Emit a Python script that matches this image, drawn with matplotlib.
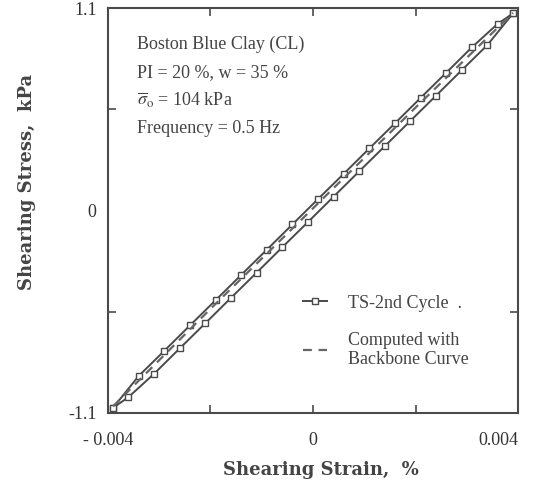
import matplotlib.pyplot as plt

plt.rcParams['font.family'] = ['Liberation Serif', 'DejaVu Serif']
plt.rcParams['mathtext.fontset'] = 'stix'

# TS-2nd cycle, upper branch (unloading) and lower branch (reloading)
upper_strain = [0.0039, 0.0036, 0.0031, 0.0026, 0.0021, 0.0016, 0.0011, 0.0006, 0.0001,
                -0.0004, -0.0009, -0.0014, -0.0019, -0.0024, -0.0029, -0.0034, -0.0039]
upper_stress = [1.072, 1.015, 0.888, 0.750, 0.613, 0.475, 0.338, 0.200, 0.063,
                -0.075, -0.213, -0.350, -0.488, -0.625, -0.763, -0.900, -1.073]
lower_strain = [-0.0039, -0.0036, -0.0031, -0.0026, -0.0021, -0.0016, -0.0011, -0.0006, -0.0001,
                0.0004, 0.0009, 0.0014, 0.0019, 0.0024, 0.0029, 0.0034, 0.0039]
lower_stress = [-1.073, -1.015, -0.888, -0.750, -0.613, -0.475, -0.338, -0.200, -0.063,
                0.075, 0.213, 0.350, 0.488, 0.625, 0.763, 0.900, 1.072]

# computed with backbone curve
bb_strain = [-0.0039, -0.002, 0.0, 0.002, 0.0039]
bb_stress = [-1.065, -0.535, 0.012, 0.56, 1.075]

xticks = [-0.004, 0, 0.004]
xtick_labels = ["- 0.004", "0", "0.004"]
yticks = [-1.1, 0, 1.1]
ytick_labels = ["-1.1", "0", "1.1"]

ink = "#4a4a4a"

fig = plt.figure(figsize=(5.53, 4.84), dpi=100)
ax = fig.add_axes([0.195, 0.147, 0.742, 0.836])

ax.plot(upper_strain, upper_stress, color=ink, lw=1.4, marker="s", ms=5,
        mfc="white", mec=ink, mew=1.0, label="TS-2nd Cycle  .")
ax.plot(lower_strain, lower_stress, color=ink, lw=1.4, marker="s", ms=5,
        mfc="white", mec=ink, mew=1.0)
ax.plot(bb_strain, bb_stress, color="#666666", lw=1.6, ls=(0, (4, 3)),
        label="Computed with\nBackbone Curve")

ax.set_xlim(-0.004, 0.004)
ax.set_ylim(-1.1, 1.1)
ax.set_xticks(xticks)
ax.set_xticklabels(xtick_labels)
ax.set_yticks(yticks)
ax.set_yticklabels(ytick_labels)
ax.set_xticks([-0.002, 0.002], minor=True)
ax.set_yticks([-0.55, 0.55], minor=True)
ax.tick_params(which="both", direction="in", top=True, right=True, color=ink,
               length=6, width=1.2, labelsize=13, labelcolor="#333333")
ax.tick_params(axis="x", which="major", pad=14)
ax.tick_params(axis="y", which="major", length=0, pad=8)
xl = ax.get_xticklabels()
xl[0].set_horizontalalignment("center")
xl[0].set_x(-0.0043)
xl[-1].set_horizontalalignment("right")
for s in ax.spines.values():
    s.set_color(ink)
    s.set_linewidth(1.5)

ax.set_xlabel("Shearing Strain,  %", family="DejaVu Serif", fontweight="bold",
              fontsize=13, color="#444444")
ax.xaxis.set_label_coords(0.52, -0.12)
ax.set_ylabel("Shearing Stress,  kPa", family="DejaVu Serif", fontweight="bold",
              fontsize=13, color="#444444")
ax.yaxis.set_label_coords(-0.175, 0.57)

info = ["Boston Blue Clay (CL)", "PI = 20 %, w = 35 %",
        r"$\overline{\sigma}_{\rm o}$ = 104 kPa", "Frequency = 0.5 Hz"]
for i, t in enumerate(info):
    ax.text(0.07, 0.91 - i * 0.069, t, transform=ax.transAxes, fontsize=13,
            color="#444444", va="center")

leg = ax.legend(loc="lower right", bbox_to_anchor=(0.92, 0.07), frameon=False,
                fontsize=13, handlelength=1.3, labelspacing=1.1, handletextpad=1.2,
                labelcolor="#444444")

fig.savefig("out.png", dpi=100)
